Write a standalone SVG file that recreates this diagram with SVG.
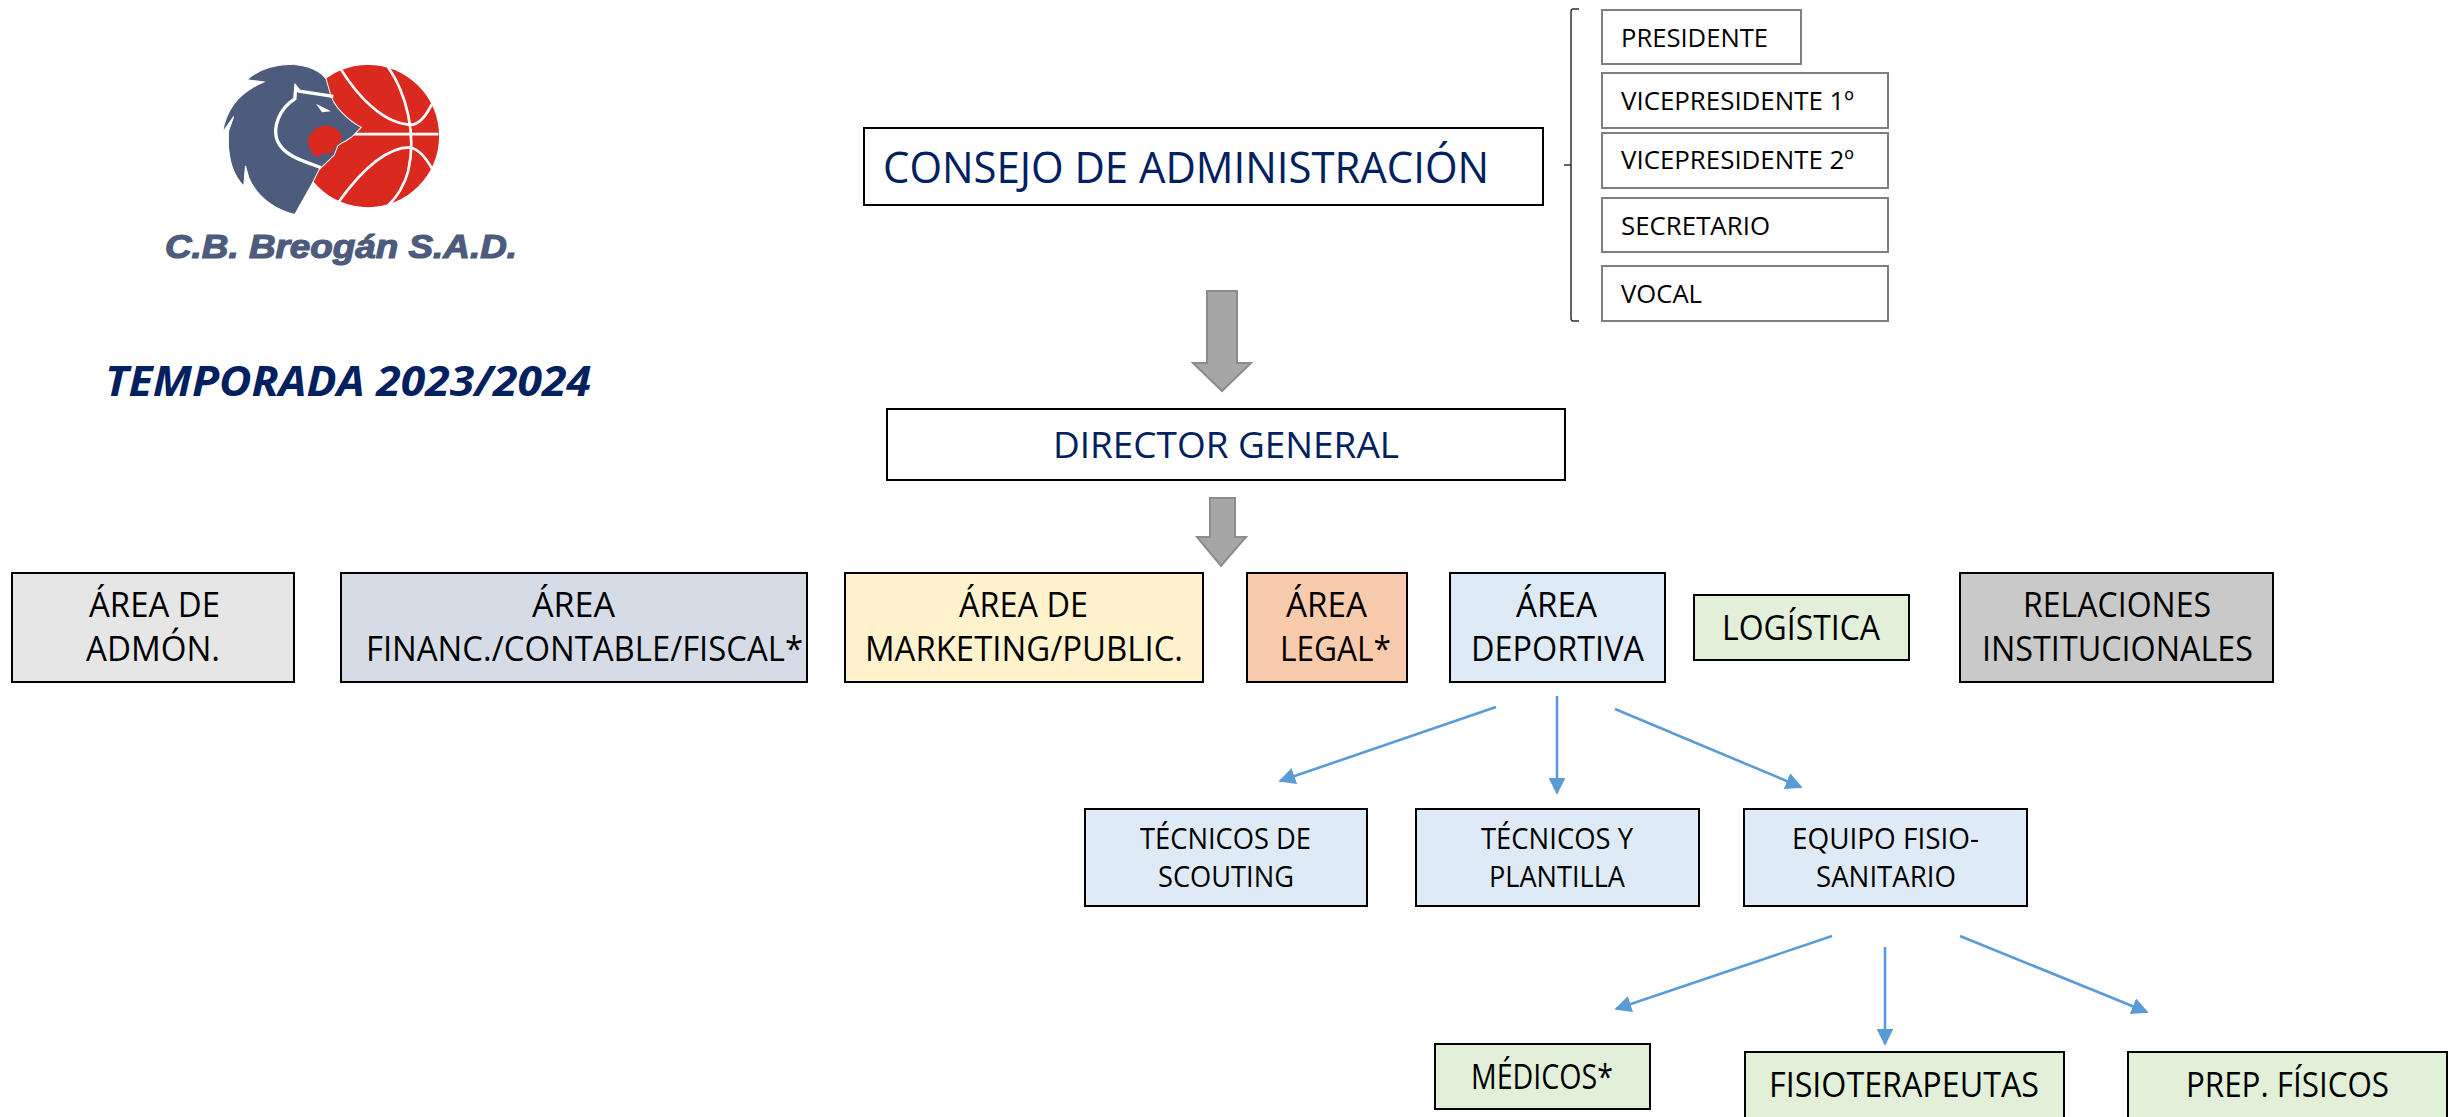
<svg xmlns="http://www.w3.org/2000/svg" width="2453" height="1117" viewBox="0 0 2453 1117">
<style>
text{font-family:"Open Sans","Noto Sans","Liberation Sans",sans-serif;fill:#000}
.s{font-size:26px}.m{font-size:29px}.l{font-size:34px}
.navy{fill:#002060}
.k{stroke:#000;stroke-width:2}
.g{fill:#fff;stroke:#7f7f7f;stroke-width:2}
.c{fill:none;stroke:#5b9bd5;stroke-width:2.6;marker-end:url(#h)}
.big{fill:#a6a6a6;stroke:#8c8c8c;stroke-width:2}
.w{fill:none;stroke:#fff;stroke-width:8}
</style>
<defs><marker id="h" viewBox="0 0 10 10" refX="9" refY="5" markerWidth="6.5" markerHeight="6.5" orient="auto-start-reverse"><path d="M0 0L10 5L0 10Z" fill="#5b9bd5"/></marker></defs>
<rect width="2453" height="1117" fill="#fff"/>

<g id="logo">
<g transform="translate(128 30) scale(.3356)">
<circle cx="715" cy="316" r="212" fill="#da291f"/>
<g class="w"><path d="M670 310H925"/><path d="M775 110C830 190 860 310 835 420C825 460 800 500 775 522"/><path d="M635 118C680 190 760 285 850 282C875 275 890 250 905 222"/><path d="M628 512C680 440 760 350 840 350C870 355 890 385 905 412"/></g>
<path d="M355 148C390 115 450 100 490 103C540 105 575 125 590 145L603 190C612 225 650 265 695 290L668 318L650 330L636 337L625 345L615 372L600 387L570 415L550 455L497 550C440 535 385 500 360 440L350 405L345 465C310 430 295 370 300 300L315 258L282 305C290 250 320 190 405 155Z" fill="#4d5b7c" stroke="#fff" stroke-width="3"/>
<path d="M612 198L510 182L500 170L497 205C450 235 430 290 445 330C465 375 520 390 575 410" fill="none" stroke="#fff" stroke-width="10"/>
<path d="M560 220L605 242L578 245Z" fill="#fff"/>
<path d="M590 285C560 285 535 310 537 335C540 360 555 378 572 378L578 366L584 374L592 364L605 372L620 345L640 328L630 318L640 316L625 298C612 288 602 285 590 285Z" fill="#da291f"/>
</g>
<text x="165" y="258" textLength="352" lengthAdjust="spacingAndGlyphs" style="font-family:'Liberation Sans',sans-serif;font-size:33px;font-weight:bold;font-style:italic;fill:#4d5b7c;stroke:#4d5b7c;stroke-width:1.2">C.B. Breogán S.A.D.</text>
</g>

<g id="temporada"><text x="105" y="396" textLength="486" lengthAdjust="spacingAndGlyphs" class="navy" style="font-size:42px;font-weight:bold;font-style:italic">TEMPORADA 2023/2024</text></g>

<g id="connectors">
<path class="big" d="M1207 291H1237V363H1251L1222 391L1193 363H1207Z"/>
<path class="big" d="M1210 498H1235V537H1246L1221 566L1197 537H1210Z"/>
<path d="M1579 9H1573Q1571 9 1571 12V318Q1571 321 1573 321H1579M1564 165H1571" fill="none" stroke="#303030" stroke-width="1.5"/>
<path class="c" d="M1496 707L1280 781"/>
<path class="c" d="M1557 696V793"/>
<path class="c" d="M1615 709L1801 787"/>
<path class="c" d="M1832 936L1616 1009"/>
<path class="c" d="M1885 947V1044"/>
<path class="c" d="M1960 936L2147 1012"/>
</g>

<g id="consejo"><rect class="k" x="864" y="128" width="679" height="77" fill="#fff"/><text class="navy" x="883" y="183" textLength="606" lengthAdjust="spacingAndGlyphs" style="font-size:44px">CONSEJO DE ADMINISTRACIÓN</text></g>
<g id="presidente"><rect class="g" x="1602" y="10" width="199" height="54"/><text class="s" x="1621" y="47" textLength="147" lengthAdjust="spacingAndGlyphs">PRESIDENTE</text></g>
<g id="vp1"><rect class="g" x="1602" y="73" width="286" height="55"/><text class="s" x="1621" y="110" textLength="233" lengthAdjust="spacingAndGlyphs">VICEPRESIDENTE 1º</text></g>
<g id="vp2"><rect class="g" x="1602" y="133" width="286" height="55"/><text class="s" x="1621" y="169" textLength="233" lengthAdjust="spacingAndGlyphs">VICEPRESIDENTE 2º</text></g>
<g id="secretario"><rect class="g" x="1602" y="198" width="286" height="54"/><text class="s" x="1621" y="235" textLength="149" lengthAdjust="spacingAndGlyphs">SECRETARIO</text></g>
<g id="vocal"><rect class="g" x="1602" y="266" width="286" height="55"/><text class="s" x="1621" y="303" textLength="81" lengthAdjust="spacingAndGlyphs">VOCAL</text></g>
<g id="director"><rect class="k" x="887" y="409" width="678" height="71" fill="#fff"/><text class="navy" x="1053" y="458" textLength="346" lengthAdjust="spacingAndGlyphs" style="font-size:36px">DIRECTOR GENERAL</text></g>

<g id="admon"><rect class="k" x="12" y="573" width="282" height="109" fill="#e7e6e6"/><text class="l" x="89" y="617" textLength="131" lengthAdjust="spacingAndGlyphs">ÁREA DE</text><text class="l" x="86" y="661" textLength="134" lengthAdjust="spacingAndGlyphs">ADMÓN.</text></g>
<g id="financ"><rect class="k" x="341" y="573" width="466" height="109" fill="#d6dce5"/><text class="l" x="532" y="617" textLength="83" lengthAdjust="spacingAndGlyphs">ÁREA</text><text class="l" x="366" y="661" textLength="437" lengthAdjust="spacingAndGlyphs">FINANC./CONTABLE/FISCAL*</text></g>
<g id="marketing"><rect class="k" x="845" y="573" width="358" height="109" fill="#fff2cc"/><text class="l" x="959" y="617" textLength="129" lengthAdjust="spacingAndGlyphs">ÁREA DE</text><text class="l" x="865" y="661" textLength="318" lengthAdjust="spacingAndGlyphs">MARKETING/PUBLIC.</text></g>
<g id="legal"><rect class="k" x="1247" y="573" width="160" height="109" fill="#f8cbad"/><text class="l" x="1286" y="617" textLength="81" lengthAdjust="spacingAndGlyphs">ÁREA</text><text class="l" x="1280" y="661" textLength="111" lengthAdjust="spacingAndGlyphs">LEGAL*</text></g>
<g id="deportiva"><rect class="k" x="1450" y="573" width="215" height="109" fill="#deebf7"/><text class="l" x="1516" y="617" textLength="81" lengthAdjust="spacingAndGlyphs">ÁREA</text><text class="l" x="1471" y="661" textLength="173" lengthAdjust="spacingAndGlyphs">DEPORTIVA</text></g>
<g id="logistica"><rect class="k" x="1694" y="595" width="215" height="65" fill="#e2f0d9"/><text class="l" x="1722" y="640" textLength="158" lengthAdjust="spacingAndGlyphs">LOGÍSTICA</text></g>
<g id="relaciones"><rect class="k" x="1960" y="573" width="313" height="109" fill="#c9c9c9"/><text class="l" x="2023" y="617" textLength="188" lengthAdjust="spacingAndGlyphs">RELACIONES</text><text class="l" x="1982" y="661" textLength="271" lengthAdjust="spacingAndGlyphs">INSTITUCIONALES</text></g>

<g id="scouting"><rect class="k" x="1085" y="809" width="282" height="97" fill="#deebf7"/><text class="m" x="1140" y="849" textLength="171" lengthAdjust="spacingAndGlyphs">TÉCNICOS DE</text><text class="m" x="1158" y="887" textLength="136" lengthAdjust="spacingAndGlyphs">SCOUTING</text></g>
<g id="plantilla"><rect class="k" x="1416" y="809" width="283" height="97" fill="#deebf7"/><text class="m" x="1481" y="849" textLength="152" lengthAdjust="spacingAndGlyphs">TÉCNICOS Y</text><text class="m" x="1489" y="887" textLength="136" lengthAdjust="spacingAndGlyphs">PLANTILLA</text></g>
<g id="fisio"><rect class="k" x="1744" y="809" width="283" height="97" fill="#deebf7"/><text class="m" x="1792" y="849" textLength="187" lengthAdjust="spacingAndGlyphs">EQUIPO FISIO-</text><text class="m" x="1816" y="887" textLength="140" lengthAdjust="spacingAndGlyphs">SANITARIO</text></g>

<g id="medicos"><rect class="k" x="1435" y="1044" width="215" height="65" fill="#e2f0d9"/><text class="l" x="1471" y="1089" textLength="142" lengthAdjust="spacingAndGlyphs">MÉDICOS*</text></g>
<g id="fisioterapeutas"><rect class="k" x="1745" y="1052" width="319" height="66" fill="#e2f0d9"/><text class="l" x="1769" y="1097" textLength="270" lengthAdjust="spacingAndGlyphs">FISIOTERAPEUTAS</text></g>
<g id="prep"><rect class="k" x="2128" y="1052" width="319" height="66" fill="#e2f0d9"/><text class="l" x="2186" y="1097" textLength="203" lengthAdjust="spacingAndGlyphs">PREP. FÍSICOS</text></g>
</svg>
